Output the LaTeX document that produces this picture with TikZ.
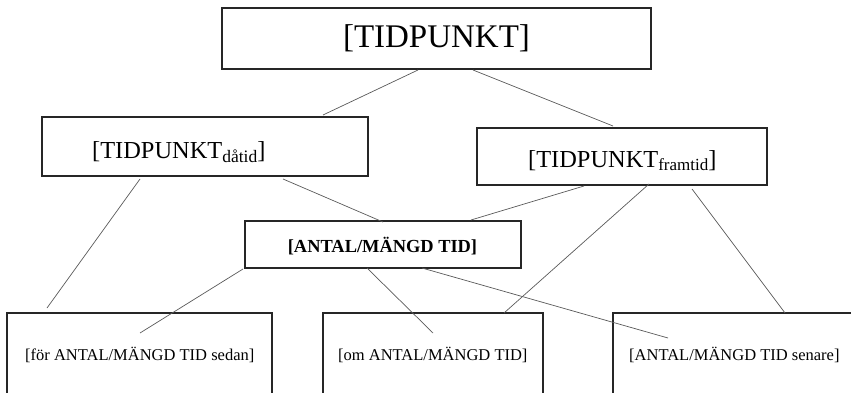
\documentclass[tikz,border=0pt]{standalone}
\usepackage{fontspec}
\setmainfont{Liberation Serif}
\begin{document}
\begin{tikzpicture}[x=1pt,y=-1pt,
 box/.style={draw=black!85, line width=1.2pt, inner sep=0pt},
 conn/.style={draw=black!65, line width=0.7pt},
 lbl/.style={inner sep=0pt, text=black}]
\useasboundingbox (0,0) rectangle (851,393);
\clip (0,0) rectangle (851,393);
% boxes
\node[box, minimum width=429, minimum height=61] (top) at (436.5,38.5) {};
\node[box, minimum width=326, minimum height=59] (datid) at (205,146.5) {};
\node[box, minimum width=290, minimum height=57] (framtid) at (622,156.5) {};
\node[box, minimum width=276, minimum height=47] (antal) at (383,244.5) {};
\node[box, minimum width=265, minimum height=87] (bl) at (139.5,356.5) {};
\node[box, minimum width=220, minimum height=87] (bm) at (433,356.5) {};
\node[box, minimum width=287, minimum height=87] (br) at (756.5,356.5) {};
% texts
\node[lbl, anchor=base, font=\fontsize{33}{38}\selectfont] (toptext) at (436.5,48) {[TIDPUNKT]};
\node[lbl, anchor=base west, font=\fontsize{24.4}{28}\selectfont] (datidtext) at (92,158) {[TIDPUNKT\raisebox{-4pt}{\fontsize{17.5}{20}\selectfont dåtid}]};
\node[lbl, anchor=base west, font=\fontsize{24.4}{28}\selectfont] (framtidtext) at (528,167) {[TIDPUNKT\raisebox{-4pt}{\fontsize{17}{20}\selectfont framtid}]};
\node[lbl, anchor=base, font=\fontsize{18.4}{22}\selectfont\bfseries] (antaltext) at (382.5,252) {[ANTAL/MÄNGD TID]};
\node[lbl, anchor=base west, font=\fontsize{16.5}{20}\selectfont] (bltext) at (25,360) {[för ANTAL/MÄNGD TID sedan]};
\node[lbl, anchor=base west, font=\fontsize{16.5}{20}\selectfont] (bmtext) at (338,360) {[om ANTAL/MÄNGD TID]};
\node[lbl, anchor=base west, font=\fontsize{16.5}{20}\selectfont] (brtext) at (629,360) {[ANTAL/MÄNGD TID senare]};
% connector end points
\coordinate (a1) at (418,70);  \coordinate (b1) at (323,115);
\coordinate (a2) at (473,70);  \coordinate (b2) at (613,126);
\coordinate (a3) at (140,179); \coordinate (b3) at (47,308);
\coordinate (a4) at (283,179); \coordinate (b4) at (383,222);
\coordinate (a5) at (584,186); \coordinate (b5) at (471,220);
\coordinate (a6) at (243,269); \coordinate (b6) at (140,333);
\coordinate (a7) at (367,268); \coordinate (b7) at (433,333);
\coordinate (a8) at (422,268); \coordinate (b8) at (668,338);
\coordinate (a9) at (649,184); \coordinate (b9) at (504,313);
\coordinate (a10) at (692,189); \coordinate (b10) at (785,313);
\foreach \i in {1,...,10} { \draw[conn] (a\i) -- (b\i); }
\end{tikzpicture}
\end{document}
